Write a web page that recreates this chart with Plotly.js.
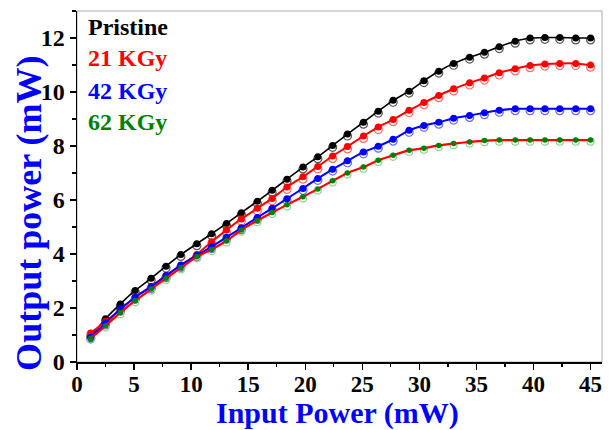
<!DOCTYPE html>
<html><head><meta charset="utf-8">
<script src="https://cdn.plot.ly/plotly-3.0.1.min.js"></script>
<style>body{margin:0;padding:0;background:#fff}#chart{width:610px;height:430px}</style>
</head><body><div id="chart"></div>
<script>
const inputPower = [1.2,2.5,3.8,5.1,6.5,7.8,9.1,10.5,11.8,13.1,14.4,15.8,17.1,18.4,19.8,21.1,22.4,23.7,25.1,26.4,27.7,29.1,30.4,31.7,33.0,34.4,35.7,37.0,38.4,39.7,41.0,42.3,43.7,45.0];

const pristineUp = [0.95,1.6,2.15,2.65,3.1,3.55,3.98,4.38,4.75,5.13,5.53,5.95,6.36,6.77,7.22,7.6,8.02,8.44,8.88,9.29,9.69,10.03,10.42,10.77,11.06,11.29,11.47,11.68,11.88,12.0,12.02,12.02,12.0,12.0];
const pristineDown = [0.9,1.53,2.08,2.58,3.03,3.48,3.91,4.31,4.68,5.06,5.46,5.88,6.29,6.7,7.15,7.53,7.95,8.37,8.81,9.22,9.62,9.96,10.35,10.7,10.99,11.22,11.4,11.61,11.81,11.93,11.95,11.95,11.93,11.93];

const kgy21Up = [1.07,1.5,1.95,2.4,2.8,3.2,3.58,3.98,4.45,4.89,5.3,5.69,6.06,6.48,6.86,7.24,7.63,7.98,8.37,8.7,8.98,9.32,9.61,9.87,10.12,10.34,10.52,10.71,10.86,10.98,11.04,11.06,11.06,11.0];
const kgy21Down = [1.02,1.43,1.88,2.33,2.72,3.12,3.5,3.9,4.36,4.8,5.21,5.6,5.97,6.39,6.77,7.15,7.54,7.89,8.28,8.61,8.9,9.24,9.53,9.79,10.04,10.26,10.44,10.63,10.78,10.9,10.96,10.98,10.98,10.92];

const kgy42Up = [0.92,1.44,1.96,2.4,2.79,3.2,3.59,3.95,4.27,4.62,4.97,5.35,5.69,6.05,6.43,6.8,7.14,7.45,7.78,7.99,8.25,8.58,8.76,8.88,9.03,9.13,9.23,9.32,9.38,9.38,9.38,9.38,9.38,9.38];
const kgy42Down = [0.86,1.37,1.89,2.33,2.72,3.13,3.52,3.88,4.2,4.55,4.9,5.28,5.62,5.98,6.36,6.73,7.07,7.38,7.71,7.92,8.18,8.51,8.69,8.81,8.96,9.06,9.16,9.25,9.31,9.31,9.31,9.31,9.31,9.31];

const kgy62Up = [0.88,1.34,1.83,2.27,2.7,3.1,3.49,3.9,4.17,4.49,4.89,5.24,5.54,5.82,6.12,6.41,6.71,7.0,7.22,7.47,7.66,7.84,7.92,8.02,8.09,8.15,8.2,8.22,8.22,8.22,8.22,8.22,8.22,8.22];
const kgy62Down = [0.83,1.28,1.77,2.21,2.64,3.04,3.43,3.84,4.11,4.43,4.83,5.18,5.48,5.76,6.06,6.35,6.65,6.94,7.16,7.41,7.6,7.78,7.86,7.96,8.03,8.09,8.14,8.16,8.16,8.16,8.16,8.16,8.16,8.16];

const seriesNames = ["Pristine","21 KGy","42 KGy","62 KGy"];
const xTicks = [0,5,10,15,20,25,30,35,40,45];
const yTicks = [0,2,4,6,8,10,12];
const xTitle = "Input Power (mW)";
const yTitle = "Output power (mW)";

const FONT = "Liberation Serif, Times New Roman, serif";
const ups = [pristineUp,kgy21Up,kgy42Up,kgy62Up];
const downs = [pristineDown,kgy21Down,kgy42Down,kgy62Down];
const markerCol = ["#000000","#ff0000","#0000ff","#008000"];
const openCol = ["#555555","#ff6a6a","#6a6aff","#8fd08f"];
const lineCol = ["#000000","#ff0000","#0000ff","#ff0000"];
const lineW = [1.6,2,2,2.2];
const mSize = [7,7,7,5.5];
const oSize = [8,8,8,7];

const traces = [];
for (let i=0;i<4;i++){
  traces.push({x:inputPower,y:downs[i],mode:"markers",type:"scatter",showlegend:false,
    marker:{symbol:"circle-open",size:oSize[i],color:openCol[i],line:{width:1.2,color:openCol[i]}},name:seriesNames[i]+" down"});
}
for (let i=0;i<4;i++){
  traces.push({x:inputPower,y:ups[i],mode:"lines+markers",type:"scatter",showlegend:false,
    line:{color:lineCol[i],width:lineW[i],shape:"spline",smoothing:0.4},
    marker:{symbol:"circle",size:mSize[i],color:markerCol[i]},name:seriesNames[i]});
}

const labelY = [0.954,0.867,0.773,0.684];
const labelCol = ["#000000","#ff0000","#0000ff","#008000"];
const annotations = seriesNames.map((n,i)=>({text:n,xref:"paper",yref:"paper",x:0.018,y:labelY[i],
  xanchor:"left",yanchor:"middle",showarrow:false,font:{family:FONT,size:24,color:labelCol[i],weight:"bold"}}));
annotations.push({text:yTitle,xref:"paper",yref:"paper",x:-0.092,y:0.424,textangle:-90,xanchor:"center",yanchor:"middle",
  showarrow:false,font:{family:FONT,size:36,color:"#0000ff",weight:"bold"}});
annotations.push({text:xTitle,xref:"paper",yref:"paper",x:0.497,y:-0.1439,xanchor:"center",yanchor:"middle",
  showarrow:false,font:{family:FONT,size:30,color:"#0000ff",weight:"bold"}});

const layout = {
  width:610,height:430,
  margin:{l:77,r:8,t:11,b:68},
  paper_bgcolor:"#ffffff",plot_bgcolor:"#ffffff",
  showlegend:false,
  xaxis:{range:[0,46],tickvals:xTicks,ticktext:xTicks.map(String),ticks:"outside",ticklen:6,tickwidth:1.5,tickcolor:"#000",
    showline:true,linecolor:"#000",linewidth:1.5,showgrid:false,zeroline:false,ticklabelstandoff:-5,
    tickfont:{family:FONT,size:23,color:"#000",weight:"bold"},
    minor:{dtick:2.5,tick0:0,ticks:"outside",ticklen:3.5,tickwidth:1.2,tickcolor:"#000",showgrid:false}},
  yaxis:{range:[0,13],tickvals:yTicks,ticktext:yTicks.map(String),ticks:"outside",ticklen:6,tickwidth:1.5,tickcolor:"#000",
    showline:true,linecolor:"#000",linewidth:1.5,showgrid:false,zeroline:false,
    tickfont:{family:FONT,size:24,color:"#000",weight:"bold"},
    minor:{dtick:1,tick0:0,ticks:"outside",ticklen:3.5,tickwidth:1.2,tickcolor:"#000",showgrid:false}},
  shapes:[{type:"rect",xref:"paper",yref:"paper",x0:0,x1:1,y0:0,y1:1,layer:"below",line:{color:"#c8c8c8",width:1.5}}],
  annotations:annotations
};
Plotly.newPlot("chart",traces,layout,{displayModeBar:false,staticPlot:true});
</script></body></html>
